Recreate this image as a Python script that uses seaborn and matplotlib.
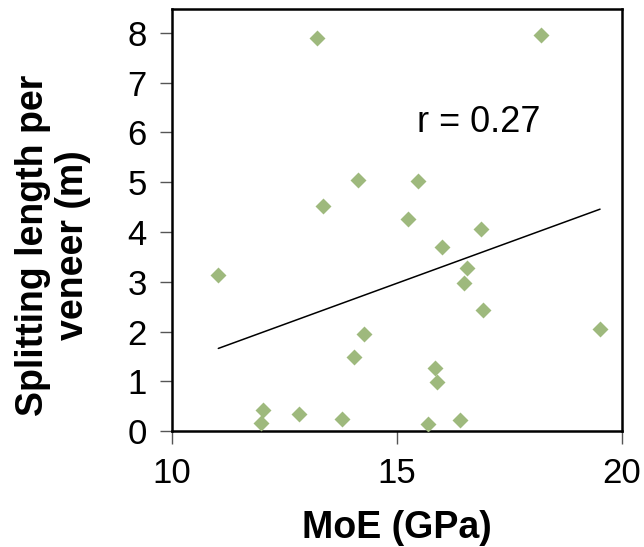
import numpy as np
import pandas as pd
import matplotlib
matplotlib.use("Agg")
import matplotlib.pyplot as plt
import seaborn as sns

# values
moe = [13.23, 18.20, 11.03, 13.36, 14.14, 15.47, 15.24, 16.87, 16.01, 16.56,
       16.49, 16.90, 19.51, 14.26, 14.05, 15.84, 15.88, 12.02, 11.98, 12.82,
       13.78, 15.69, 16.40]
splitting = [7.89, 7.95, 3.13, 4.53, 5.04, 5.02, 4.27, 4.06, 3.69, 3.27,
             2.98, 2.44, 2.05, 1.95, 1.49, 1.27, 0.99, 0.42, 0.16, 0.35,
             0.24, 0.15, 0.22]
# trend line as shown in the figure
trend_slope = 0.330
trend_intercept = -1.98
r_label = "r = 0.27"

df = pd.DataFrame({"MoE": moe, "split": splitting})
trend_x = np.array([min(moe), max(moe)])
trend = pd.DataFrame({"MoE": trend_x, "split": trend_intercept + trend_slope * trend_x})

sns.set_style("ticks")
plt.rcParams["font.family"] = ["Liberation Sans", "DejaVu Sans"]
plt.rcParams["text.color"] = "black"
plt.rcParams["axes.labelcolor"] = "black"
plt.rcParams["xtick.labelcolor"] = "black"
plt.rcParams["ytick.labelcolor"] = "black"

fig = plt.figure(figsize=(6.44, 5.47), dpi=100)
ax = fig.add_axes([0.267, 0.212, 0.699, 0.7715])

sns.lineplot(data=trend, x="MoE", y="split", color="black", linewidth=1.1, ax=ax)
sns.scatterplot(data=df, x="MoE", y="split", marker="D", s=66,
                color="#9EB97D", linewidth=0, ax=ax, zorder=3)

ax.set_xlim(10, 20)
ax.set_ylim(0, 8.48)
ax.set_xticks([10, 15, 20])
ax.set_yticks(range(0, 9))
ax.tick_params(labelsize=25, length=9, width=1, color="#555555")
ax.tick_params(axis="x", pad=10)
ax.tick_params(axis="y", pad=9)

for sp in ax.spines.values():
    sp.set_visible(True)
    sp.set_linewidth(1.8)
    sp.set_color("black")

ax.set_xlabel("MoE (GPa)", fontsize=27, fontweight="bold", labelpad=14)
ax.set_ylabel("Splitting length per\nveneer (m)", fontsize=27,
              fontweight="bold", linespacing=1.15)
ax.yaxis.set_label_coords(-0.18, 0.44)

ax.text(16.82, 6.2, r_label, fontsize=26, ha="center", va="center")

fig.savefig("out.png", dpi=100)
